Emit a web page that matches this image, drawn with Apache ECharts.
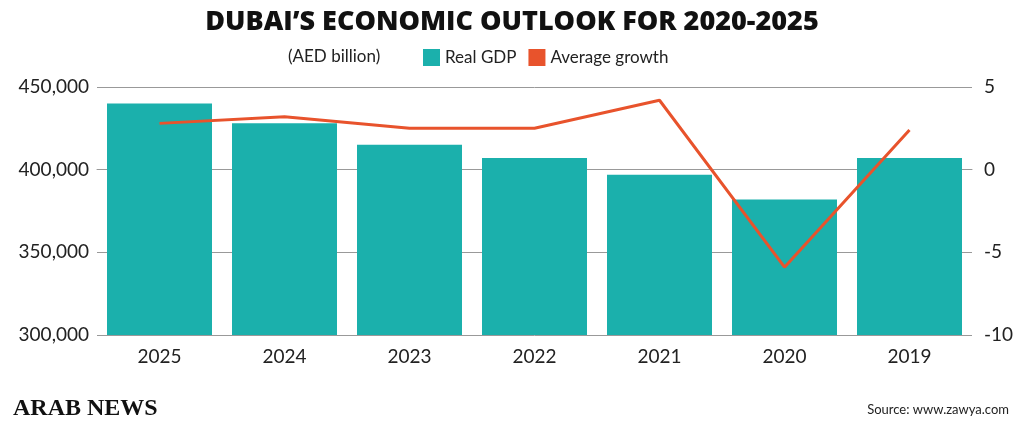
<!DOCTYPE html>
<html><head><meta charset="utf-8">
<script src="https://cdn.jsdelivr.net/npm/echarts@6/dist/echarts.min.js"></script>
<style>html,body{margin:0;background:#fff}#c{width:1024px;height:422px}</style>
</head><body><div id="c"></div>
<script>
var years = ["2025", "2024", "2023", "2022", "2021", "2020", "2019"];
var gdp = [440000, 428000, 415000, 407000, 397000, 382000, 407000];
var growth = [2.8, 3.2, 2.5, 2.5, 4.2, -5.9, 2.4];

var chart = echarts.init(document.getElementById("c"));
var font = "Lato,'Helvetica Neue',Arial,sans-serif";
chart.setOption({
    animation: false,
    textStyle: { fontFamily: font },
    title: [{
        text: "DUBAI\u2019S ECONOMIC OUTLOOK FOR 2020-2025",
        left: "center", top: 4,
        textStyle: { fontSize: 27, fontWeight: 900, color: "#111", fontFamily: "'Open Sans',Inter,sans-serif" }
    }, {
        text: "(AED billion)", left: 283, top: 43,
        textStyle: { fontSize: 17, fontWeight: "normal", color: "#222" }
    }, {
        text: "ARAB NEWS", left: 8, top: 392,
        textStyle: { fontSize: 24, fontWeight: "bold", color: "#111", fontFamily: "'Liberation Serif',serif" }
    }, {
        text: "Source: www.zawya.com", right: 10, top: 398,
        textStyle: { fontSize: 13, fontWeight: "normal", color: "#222" }
    }],
    legend: {
        left: 418, top: 44, itemWidth: 17, itemHeight: 17, itemGap: 12,
        textStyle: { fontSize: 17, color: "#222" },
        data: [{ name: "Real GDP", icon: "rect" }, { name: "Average growth", icon: "rect" }]
    },
    grid: { left: 97, right: 52, top: 87, bottom: 87 },
    xAxis: {
        type: "category", data: years,
        axisTick: { show: false },
        axisLine: { lineStyle: { color: "#999" } },
        axisLabel: { fontSize: 19, color: "#222", margin: 12 }
    },
    yAxis: [{
        type: "value", min: 300000, max: 450000, interval: 50000,
        axisLabel: { fontSize: 19, color: "#222", formatter: function (v) { return v.toLocaleString("en-US"); } },
        splitLine: { lineStyle: { color: "#999" } }
    }, {
        type: "value", min: -10, max: 5, interval: 5,
        axisLabel: { fontSize: 19, color: "#222", margin: 12 },
        splitLine: { show: false }
    }],
    series: [{
        name: "Real GDP", type: "bar", data: gdp, barCategoryGap: "16%",
        itemStyle: { color: "#1bb0ac" }
    }, {
        name: "Average growth", type: "line", yAxisIndex: 1, data: growth,
        symbol: "none", lineStyle: { color: "#e8532c", width: 3 }, itemStyle: { color: "#e8532c" }
    }]
});
</script></body></html>
